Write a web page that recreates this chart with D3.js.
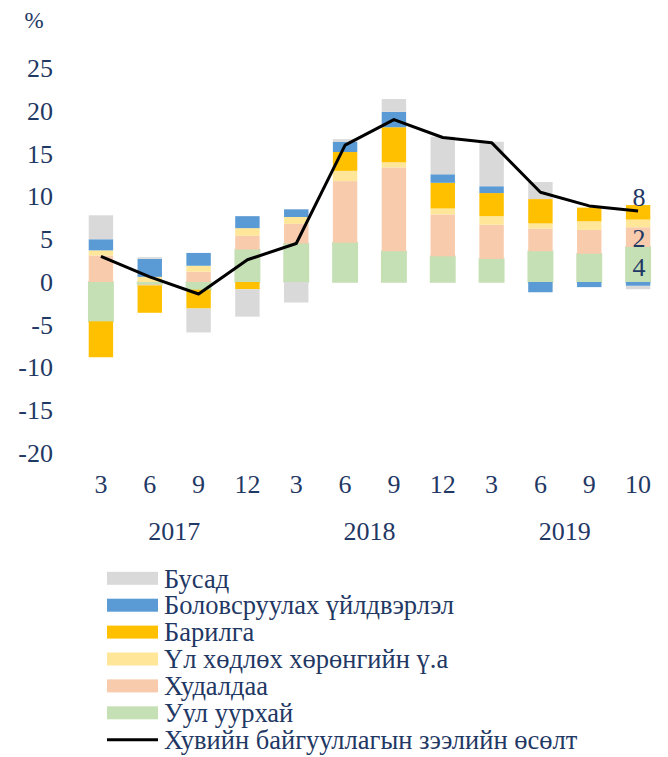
<!DOCTYPE html>
<html>
<head>
<meta charset="utf-8">
<script src="https://cdn.jsdelivr.net/npm/d3@7"></script>
<style>
  body { margin: 0; background: #fff; }
  text { font-family: "Liberation Serif", "Times New Roman", serif; fill: #1f3864; }
</style>
</head>
<body>
<div id="chart"></div>
<script>
// months of each observation and the year groups under them
const months = ['3', '6', '9', '12', '3', '6', '9', '12', '3', '6', '9', '10'];
const years = ['2017', '2018', '2019'];

// sector contributions, percentage points
const mining        = [-4.6, -0.3, -0.9, 3.8, 4.5, 4.6, 3.6, 3.0, 2.7, 3.6, 3.3, 4.1];
const trade         = [3.1, -0.1, 1.2, 1.6, 2.3, 7.2, 9.8, 4.9, 4.0, 2.65, 2.8, 2.3];
const realEstate    = [0.6, 0.6, 0.7, 0.9, 0.8, 1.2, 0.6, 0.7, 1.0, 0.6, 1.0, 0.9];
const construction  = [-4.2, -3.2, -2.2, -0.85, 0, 2.2, 4.1, 3.0, 2.7, 2.85, 1.6, 1.7];
const manufacturing = [1.3, 2.1, 1.5, 1.4, 0.9, 1.2, 1.8, 1.0, 0.8, -1.2, -0.6, -0.45];
const other         = [2.8, 0.2, -2.8, -3.2, -2.4, 0.3, 1.5, 4.4, 5.2, 2.0, 0, -0.4];

// total private sector loan growth, %
const loanGrowth = [3.0, 0.6, -1.4, 2.6, 4.5, 16.0, 19.0, 16.9, 16.3, 10.5, 8.9, 8.3];

const yTicks = [-20, -15, -10, -5, 0, 5, 10, 15, 20, 25];

// stacking order, bottom first
const series = [
  { key: 'mining', name: 'Уул уурхай', values: mining, color: '#c5e0b4' },
  { key: 'trade', name: 'Худалдаа', values: trade, color: '#f8cbad' },
  { key: 'realEstate', name: 'Үл хөдлөх хөрөнгийн ү.а', values: realEstate, color: '#ffe699' },
  { key: 'construction', name: 'Барилга', values: construction, color: '#ffc000' },
  { key: 'manufacturing', name: 'Боловсруулах үйлдвэрлэл', values: manufacturing, color: '#5b9bd5' },
  { key: 'other', name: 'Бусад', values: other, color: '#d9d9d9' }
];

const width = 668, height = 757;
const fontSize = 26;

const svg = d3.select('#chart').append('svg')
  .attr('width', width)
  .attr('height', height);

const rows = months.map((m, i) => {
  const r = { idx: i };
  series.forEach(s => r[s.key] = s.values[i]);
  return r;
});

const x = d3.scaleBand()
  .domain(d3.range(months.length))
  .range([76.5, 662.5])
  .paddingInner(0.5)
  .paddingOuter(0.25);

const y = d3.scaleLinear()
  .domain([-20, 25])
  .range([453, 68.25]);

const stack = d3.stack()
  .keys(series.map(s => s.key))
  .offset(d3.stackOffsetDiverging);

const stacked = stack(rows);

// bars
svg.append('g')
  .selectAll('g.layer')
  .data(stacked)
  .join('g')
  .classed('layer', true)
  .attr('fill', (d, i) => series[i].color)
  .attr('stroke', (d, i) => series[i].key === 'mining' ? series[i].color : 'none')
  .attr('stroke-width', 1.5)
  .selectAll('rect')
  .data(d => d)
  .join('rect')
  .attr('x', d => x(d.data.idx))
  .attr('width', x.bandwidth())
  .attr('y', d => y(Math.max(d[0], d[1])))
  .attr('height', d => Math.abs(y(d[0]) - y(d[1])));

// growth line
const line = d3.line()
  .x((d, i) => x(i) + x.bandwidth() / 2)
  .y(d => y(d));

svg.append('path')
  .datum(loanGrowth)
  .attr('d', line)
  .attr('fill', 'none')
  .attr('stroke', '#000')
  .attr('stroke-width', 3)
  .attr('stroke-linejoin', 'round');

// y axis (plain hyphen for negatives, as in the original)
const yAxis = svg.append('g')
  .attr('transform', 'translate(53,0)')
  .call(d3.axisLeft(y).tickValues(yTicks).tickSize(0).tickPadding(0).tickFormat(d => String(d)));
yAxis.select('.domain').remove();
yAxis.selectAll('text')
  .attr('font-size', fontSize)
  .attr('font-family', null)
  .attr('fill', null);

svg.append('text')
  .attr('x', 34)
  .attr('y', 20)
  .attr('dy', '0.35em')
  .attr('text-anchor', 'middle')
  .attr('font-size', 23)
  .text('%');

// month labels
const xAxis = svg.append('g')
  .attr('transform', 'translate(0,475)')
  .call(d3.axisBottom(x).tickSize(0).tickPadding(0).tickFormat(i => months[i]));
xAxis.select('.domain').remove();
xAxis.selectAll('text')
  .attr('font-size', fontSize)
  .attr('font-family', null)
  .attr('fill', null)
  .attr('dy', '0.35em')
  .attr('y', 9);

// year labels, centred under each group of four months
svg.append('g')
  .selectAll('text')
  .data(years)
  .join('text')
  .attr('x', (d, i) => (x(i * 4) + x(i * 4 + 3) + x.bandwidth()) / 2)
  .attr('y', 531)
  .attr('dy', '0.35em')
  .attr('text-anchor', 'middle')
  .attr('font-size', fontSize)
  .text(d => d);

// value labels on the last bar
const last = months.length - 1;
const cx = x(last) + x.bandwidth() / 2;
const lastStack = k => stacked.find(s => s.key === k)[last];
const labels = [
  { v: loanGrowth[last], y: y(loanGrowth[last]) - 14 },
  { v: trade[last], y: y((lastStack('trade')[0] + lastStack('trade')[1]) / 2) + 1 },
  { v: mining[last], y: y((lastStack('mining')[0] + lastStack('mining')[1]) / 2) + 2 }
];
svg.append('g')
  .selectAll('text')
  .data(labels)
  .join('text')
  .attr('x', cx + 1)
  .attr('y', d => d.y)
  .attr('dy', '0.35em')
  .attr('text-anchor', 'middle')
  .attr('font-size', fontSize)
  .text(d => Math.round(d.v));

// legend
const legendItems = [...series].reverse().map(s => ({ name: s.name, color: s.color, type: 'box' }));
legendItems.push({ name: 'Хувийн байгууллагын зээлийн өсөлт', color: '#000', type: 'line' });

const legend = svg.append('g')
  .selectAll('g')
  .data(legendItems)
  .join('g')
  .attr('transform', (d, i) => `translate(107,${578.3 + i * 26.9})`);

legend.filter(d => d.type === 'box')
  .append('rect')
  .attr('x', 0)
  .attr('y', -6.5)
  .attr('width', 51)
  .attr('height', 13)
  .attr('fill', d => d.color);

legend.filter(d => d.type === 'line')
  .append('line')
  .attr('x1', 0)
  .attr('x2', 51)
  .attr('stroke', '#000')
  .attr('stroke-width', 3);

legend.append('text')
  .attr('x', 57)
  .attr('dy', '0.35em')
  .attr('font-size', 26.5)
  .text(d => d.name);
</script>
</body>
</html>
